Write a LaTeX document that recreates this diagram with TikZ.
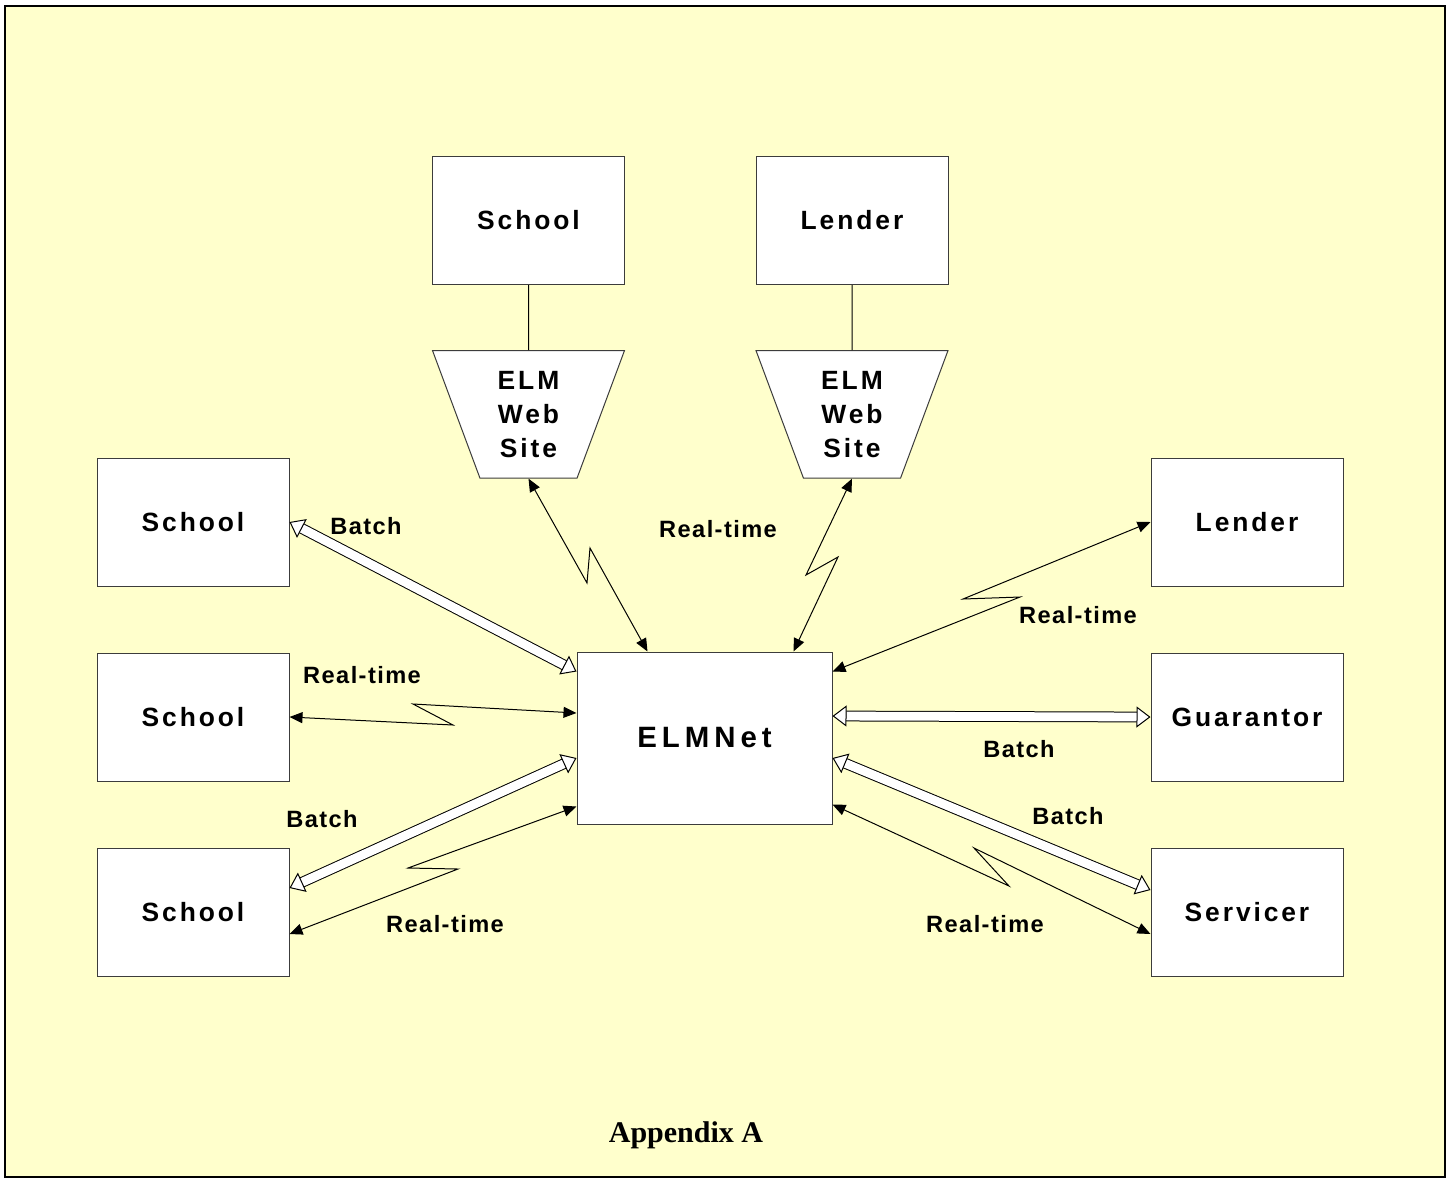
\documentclass[tikz,border=0pt]{standalone}
\usepackage{fontspec}
\setmainfont{Liberation Sans}
\newfontfamily\boxfont{Liberation Sans}[LetterSpace=11]
\newfontfamily\lblfont{Liberation Sans}[LetterSpace=6]
\newfontfamily\apxfont{Liberation Serif}
\usepackage{xcolor}
\definecolor{PaleYellow}{HTML}{FFFFCC}
\definecolor{BoxLine}{HTML}{3C3C3C}
\usepackage{tikz}
\usetikzlibrary{arrows.meta,positioning,calc,shapes.geometric}

\begin{document}
\begin{tikzpicture}[x=0.5pt,y=-0.5pt,
  box/.style={draw=BoxLine,fill=white,line width=0.5pt,minimum width=96pt,minimum height=64pt,inner sep=0pt,font=\boxfont\bfseries\fontsize{13.2}{17}\selectfont},
  web/.style={box,trapezium,trapezium left angle=110.4,trapezium right angle=110.4,trapezium stretches body,minimum height=0pt,inner ysep=10.3pt,align=center},
  lbl/.style={font=\lblfont\bfseries\fontsize{11.8}{14}\selectfont},
  rt/.style={{Triangle[length=6.5pt,width=5.5pt]}-{Triangle[length=6.5pt,width=5.5pt]},line width=0.5pt},
  bt/.style={double=white,double distance=4.4pt,line width=0.5pt,{Triangle[fill=white,length=7pt,width=10.5pt,line width=0.5pt]}-{Triangle[fill=white,length=7pt,width=10.5pt,line width=0.5pt]}}
]
  \fill[white] (0,0) rectangle (1452,1180);
  \useasboundingbox (0,0) rectangle (1452,1180);
  \draw[line width=1.4pt,fill=PaleYellow] (5,6) rectangle (1445,1177);

  \node[box] (ts1) at (528.5,220.5) {School};
  \node[box] (tl1) at (852,220.5) {Lender};
  \node[web,below=32.5pt of ts1] (ws1) {ELM\\Web\\Site};
  \node[web,below=32.5pt of tl1] (ws2) {ELM\\Web\\Site};
  \draw[line width=0.5pt] (ts1) -- (ws1);
  \draw[line width=0.5pt] (tl1) -- (ws2);

  \node[box] (s1) at (193,522) {School};
  \node[box,below=33pt of s1] (s2) {School};
  \node[box,below=33pt of s2] (s3) {School};
  \node[box] (l2) at (1247,522) {Lender};
  \node[box,below=33pt of l2] (g) {Guarantor};
  \node[box,below=33pt of g] (sv) {Servicer};
  \node[box,minimum width=127.5pt,minimum height=86pt,font=\boxfont\bfseries\fontsize{14.7}{17}\selectfont\addfontfeature{LetterSpace=17}] (net) at (704.5,738) {ELMNet};

  \draw[bt] (s1.east) -- ($(net.north west)+(0,20)$);
  \draw[rt] (s2.east) -- (453,725) -- (413,704) -- ($(net.west)+(0,-25)$);
  \draw[bt] ($(s3.east)+(0,-24)$) -- ($(net.west)+(0,20)$);
  \draw[rt] ($(s3.east)+(0,22)$) -- (458,869) -- (408,868) -- ($(net.south west)+(0,-18)$);
  \draw[rt] (ws1.south) -- (587,583) -- (590,548) -- ($(net.north west)+(71,0)$);
  \draw[rt] (ws2.south) -- (806,575) -- (838,557) -- ($(net.north east)+(-39,0)$);
  \draw[rt] ($(net.north east)+(0,20)$) -- (1020,597) -- (963,599) -- (l2.west);
  \draw[bt] ($(net.east)+(0,-22)$) -- (g.west);
  \draw[bt] ($(net.east)+(0,20)$) -- ($(sv.west)+(0,-22)$);
  \draw[rt] ($(net.south east)+(0,-20)$) -- (1009,886) -- (974,848) -- ($(sv.west)+(0,22)$);

  \node[lbl] (lb1) at (366,526) {Batch};
  \node[lbl] (lr2) at (362,675) {Real-time};
  \node[lbl] (lb3) at (322,819) {Batch};
  \node[lbl] (lr3) at (445,924) {Real-time};
  \node[lbl] (lrw) at (718,529) {Real-time};
  \node[lbl] (lrl) at (1078,615) {Real-time};
  \node[lbl] (lbg) at (1019,749) {Batch};
  \node[lbl] (lbs) at (1068,816) {Batch};
  \node[lbl] (lrs) at (985,924) {Real-time};

  \node[anchor=base,font=\apxfont\bfseries\fontsize{15}{18}\selectfont] (apx) at (686,1142) {Appendix A};
\end{tikzpicture}
\end{document}
